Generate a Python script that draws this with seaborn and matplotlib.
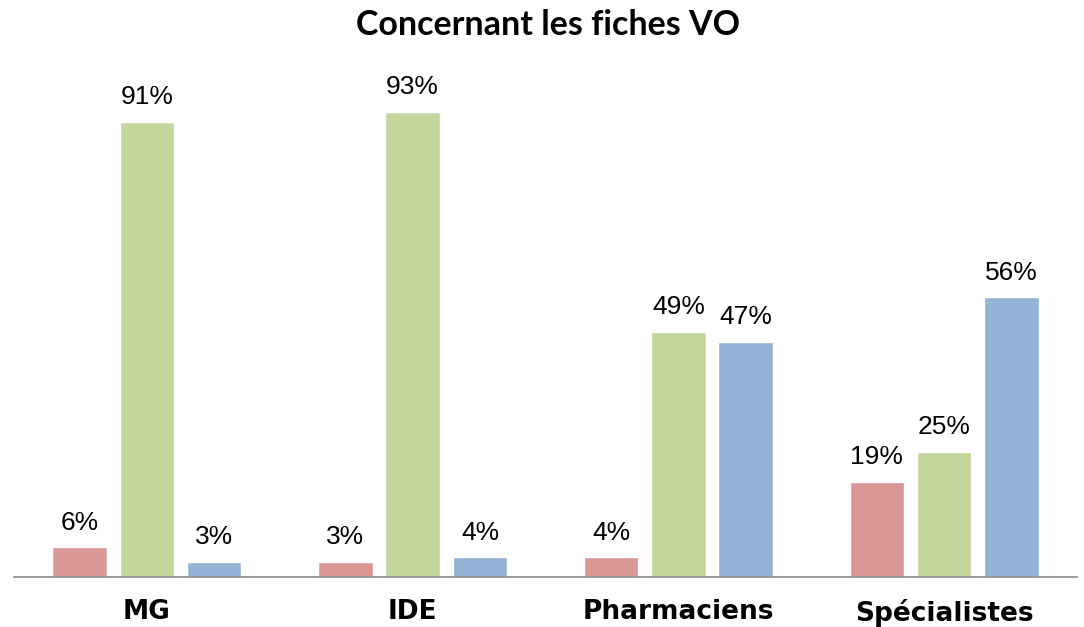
import matplotlib
matplotlib.use("Agg")
import matplotlib.pyplot as plt
import seaborn as sns
import pandas as pd

categories = ["MG", "IDE", "Pharmaciens", "Spécialistes"]
series_names = ["Série 1", "Série 2", "Série 3"]
serie1 = [6, 3, 4, 19]
serie2 = [91, 93, 49, 25]
serie3 = [3, 4, 47, 56]
colors = ["#D99694", "#C3D69B", "#95B3D7"]
title = "Concernant les fiches VO"

rows = []
for name, vals in zip(series_names, [serie1, serie2, serie3]):
    for c, v in zip(categories, vals):
        rows.append({"cat": c, "serie": name, "val": v})
df = pd.DataFrame(rows)

sns.set_theme(style="white")
plt.rcParams['font.family'] = ['Liberation Sans', 'DejaVu Sans']

fig = plt.figure(figsize=(10.84, 6.27), dpi=100)
ax = fig.add_axes([14/1084, 50/627, 1063/1084, 500/627])

sns.barplot(data=df, x="cat", y="val", hue="serie", order=categories,
            hue_order=series_names, palette=colors, width=0.76, gap=0.19,
            saturation=1, legend=False, ax=ax, errorbar=None)

ax.set_xlim(-0.5, len(categories) - 0.5)
ax.set_ylim(0, 100)
ax.set_xlabel("")
ax.set_ylabel("")
ax.set_yticks([])
for s in ["top", "right", "left"]:
    ax.spines[s].set_visible(False)
ax.spines["bottom"].set_color("#8C8C8C")
ax.spines["bottom"].set_linewidth(1.2)
ax.tick_params(axis="x", length=0, pad=16)
for lbl in ax.get_xticklabels():
    lbl.set_fontfamily("DejaVu Sans")
    lbl.set_fontweight("bold")
    lbl.set_fontsize(19)
    lbl.set_color("black")

for cont in ax.containers:
    ax.bar_label(cont, labels=[f"{int(round(v))}%" for v in cont.datavalues],
                 padding=9, fontsize=19, color="black")

fig.text(548/1084, 1 - 25/627, title, ha="center", va="center", color="black",
         fontsize=24.5, fontweight="bold", family=["Lato", "DejaVu Sans"])

fig.savefig("out.png", dpi=100)
